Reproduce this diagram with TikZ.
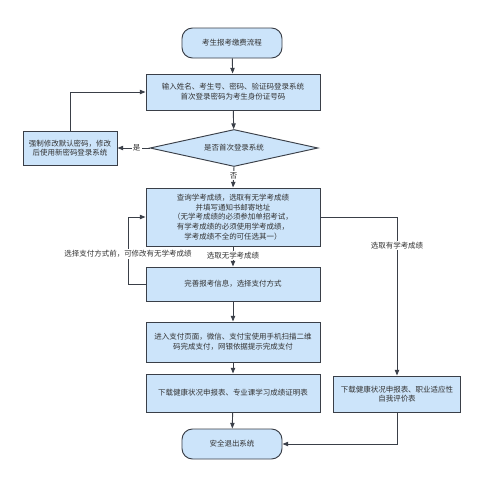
\documentclass[tikz,border=0pt]{standalone}
\usepackage{fontspec}
\setmainfont{Noto Sans CJK SC}
\usetikzlibrary{arrows.meta,shapes.geometric}
\definecolor{Ink}{HTML}{3A3F48}
\definecolor{Word}{HTML}{333333}
\definecolor{Sky}{HTML}{CCE4FA}
\tikzset{
  terminal/.style={
    rounded corners=9pt, draw=Ink, thick, fill=Sky, text=Word,
    minimum width=3cm, minimum height=0.9cm, align=center
  },
  process/.style={
    draw=Ink, thick, fill=Sky, text=Word,
    minimum width=5.22cm, align=center, inner sep=2pt
  },
  decision/.style={
    diamond, aspect=4.5, draw=Ink, thick, fill=Sky, text=Word,
    minimum width=5.04cm, minimum height=1.11cm, inner sep=0pt
  },
  flow/.style={-{Triangle[length=1.7mm,width=1.3mm]}, thick, draw=Ink},
  tag/.style={fill=white, text=Word, inner sep=1pt}
}

\begin{document}
\begin{tikzpicture}[x=0.03cm,y=-0.03cm,font=\fontsize{6.4pt}{8.3pt}\selectfont]
    \useasboundingbox (0,0) rectangle (496,495);
    \fill[white] (0,0) rectangle (496,495);
    \node[terminal] (start) at (232,43) {考生报考缴费流程};
    \node[process,minimum height=1.08cm] (input) at (233,92)
      {输入姓名、考生号、密码、验证码登录系统\\首次登录密码为考生身份证号码};
    \node[decision] (firstlog) at (234,148) {是否首次登录系统};
    \node[process,minimum width=2.82cm,minimum height=1.02cm] (reset) at (70,148)
      {强制修改默认密码，修改\\后使用新密码登录系统};
    \node[process,minimum height=1.74cm] (query) at (233,217)
      {查询学考成绩，选取有无学考成绩\\并填写通知书邮寄地址\\（无学考成绩的必须参加单招考试，\\有学考成绩的必须使用学考成绩，\\学考成绩不全的可任选其一）};
    \node[process,minimum height=1.02cm] (info) at (233,284) {完善报考信息，选择支付方式};
    \node[process,minimum height=1.2cm] (pay) at (233,342)
      {进入支付页面，微信、支付宝使用手机扫描二维\\码完成支付，网银依据提示完成支付};
    \node[process,minimum height=1.14cm] (nograde) at (233,393)
      {下载健康状况申报表、专业课学习成绩证明表};
    \node[process,minimum width=3.81cm,minimum height=1.08cm] (hasgrade) at (397,394)
      {下载健康状况申报表、职业适应性\\自我评价表};
    \node[terminal] (finish) at (232,444) {安全退出系统};
    \coordinate (loopleft) at (128,284);
    \coordinate (rightturn) at (397,217);
    \draw[flow] (start)--(input);
    \draw[flow] (input)--(firstlog);
    \draw[flow] (firstlog.west) -- node[tag,pos=0.4] {是} (reset.east);
    \draw[flow] (reset.north) |- (input.west);
    \draw[flow] (firstlog.south) -- node[tag,pos=0.42] {否} (query.north);
    \draw[flow] (query) -- node[tag,pos=0.45] {选取无学考成绩} (info);
    \draw[flow] (info.west) -- (loopleft)
      -- node[tag,pos=0.45] {选择支付方式前，可修改有无学考成绩} (loopleft |- query.west)
      -- (query.west);
    \draw[flow] (query.east) -- (rightturn)
      -- node[tag,pos=0.18] {选取有学考成绩} (hasgrade.north);
    \draw[flow] (info)--(pay);
    \draw[flow] (pay)--(nograde);
    \draw[flow] (nograde)--(finish);
    \draw[flow] (hasgrade.south) |- (finish.east);
  \end{tikzpicture}
\end{document}
